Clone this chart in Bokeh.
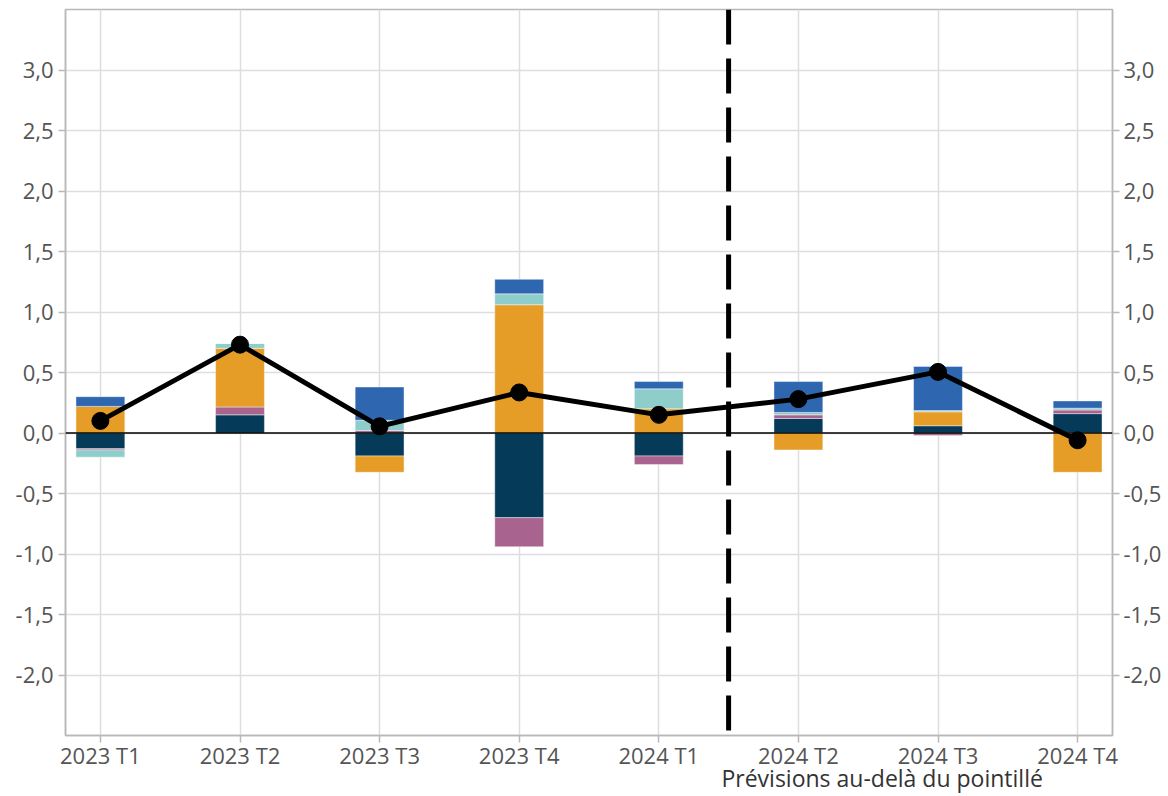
import numpy as np
from bokeh.plotting import figure
from bokeh.models import (ColumnDataSource, FixedTicker, LinearAxis, Span,
                          CustomJSTickFormatter, Range1d)
from bokeh.embed import file_html
from bokeh.resources import INLINE

# ---------------- data ----------------
quarters = ["2023 T1", "2023 T2", "2023 T3", "2023 T4",
            "2024 T1", "2024 T2", "2024 T3", "2024 T4"]
navy   = [-0.13, 0.15, -0.19, -0.70, -0.19, 0.12, 0.06, 0.16]
purple = [-0.01, 0.065, 0.02, -0.24, -0.07, 0.03, -0.02, 0.03]
orange = [0.22, 0.485, -0.135, 1.06, 0.20, -0.14, 0.115, -0.325]
teal   = [-0.06, 0.04, 0.085, 0.09, 0.165, 0.02, 0.01, 0.015]
blue   = [0.08, 0.0, 0.275, 0.12, 0.06, 0.255, 0.365, 0.06]
total  = [0.10, 0.73, 0.055, 0.335, 0.15, 0.28, 0.505, -0.06]
y_ticks = [-2.0, -1.5, -1.0, -0.5, 0.0, 0.5, 1.0, 1.5, 2.0, 2.5, 3.0]
forecast_split = 4.5
note_text = "Prévisions au-delà du pointillé"

series = [navy, purple, orange, teal, blue]
colors = ["#063A59", "#A8638F", "#E59D27", "#8FCDCB", "#2E67B0"]

FONT = "Open Sans"
x = np.arange(len(quarters))

p = figure(width=1164, height=796, output_backend="svg", toolbar_location=None,
           x_range=Range1d(-0.25, len(quarters) - 0.75), y_range=Range1d(-2.5, 3.5),
           min_border_left=65, min_border_right=50, min_border_top=9, min_border_bottom=61)
p.outline_line_color = "#b8b8b8"
p.outline_line_width = 1.5
p.background_fill_color = "white"
p.border_fill_color = "white"

# grid
p.xgrid.ticker = FixedTicker(ticks=list(x))
p.ygrid.ticker = FixedTicker(ticks=y_ticks)
for g in (p.xgrid, p.ygrid):
    g.grid_line_color = "#dddddd"
    g.grid_line_width = 1.5

# stacked bars (positive stack up, negative stack down)
pos_base = np.zeros(len(x))
neg_base = np.zeros(len(x))
for vals, col in zip(series, colors):
    v = np.array(vals, dtype=float)
    bottom = np.where(v >= 0, pos_base, neg_base)
    top = bottom + v
    pos_base = np.where(v >= 0, top, pos_base)
    neg_base = np.where(v < 0, top, neg_base)
    src = ColumnDataSource(dict(x=x, top=top, bottom=bottom))
    p.vbar(x="x", top="top", bottom="bottom", width=0.35, source=src,
           fill_color=col, line_color="white", line_width=0.6, line_alpha=0.7)

# forecast divider and zero line
p.add_layout(Span(location=forecast_split, dimension="height", line_color="black",
                  line_width=5, line_dash="35 14", level="underlay"))
p.add_layout(Span(location=0, dimension="width", line_color="black", line_width=1.5))

# total line
lsrc = ColumnDataSource(dict(x=x, y=total))
p.line("x", "y", source=lsrc, line_color="black", line_width=5)
p.scatter("x", "y", source=lsrc, size=17, fill_color="black", line_color="black")

# axes
fmt = CustomJSTickFormatter(code="return tick.toFixed(1).replace('.', ',');")

def style_axis(ax):
    ax.axis_line_color = "#b8b8b8"
    ax.axis_line_width = 1.5
    ax.major_tick_line_color = "#b8b8b8"
    ax.major_tick_line_width = 1.5
    ax.major_tick_out = 7
    ax.major_tick_in = 0
    ax.minor_tick_line_color = None
    ax.major_label_text_font = FONT
    ax.major_label_text_font_size = "22px"
    ax.major_label_text_color = "#555555"

p.yaxis.ticker = FixedTicker(ticks=y_ticks)
p.yaxis.formatter = fmt
style_axis(p.yaxis[0])
p.yaxis.major_label_standoff = 5

ry = LinearAxis(ticker=FixedTicker(ticks=y_ticks), formatter=fmt)
style_axis(ry)
ry.major_label_standoff = 4
p.add_layout(ry, "right")

p.xaxis.ticker = FixedTicker(ticks=list(x))
p.xaxis.major_label_overrides = {int(i): q for i, q in zip(x, quarters)}
style_axis(p.xaxis[0])
p.xaxis.major_label_standoff = -3

# note below the x axis, drawn as a tick-less secondary axis label
note_pos = forecast_split + 1.1
note_axis = LinearAxis(ticker=FixedTicker(ticks=[note_pos]),
                       major_label_overrides={note_pos: note_text})
note_axis.axis_line_color = None
note_axis.major_tick_line_color = None
note_axis.minor_tick_line_color = None
note_axis.major_tick_out = 0
note_axis.major_label_standoff = -11
note_axis.major_label_text_font = FONT
note_axis.major_label_text_font_size = "23px"
note_axis.major_label_text_color = "#333333"
p.add_layout(note_axis, "below")

open("out.html", "w").write(file_html(p, INLINE))
